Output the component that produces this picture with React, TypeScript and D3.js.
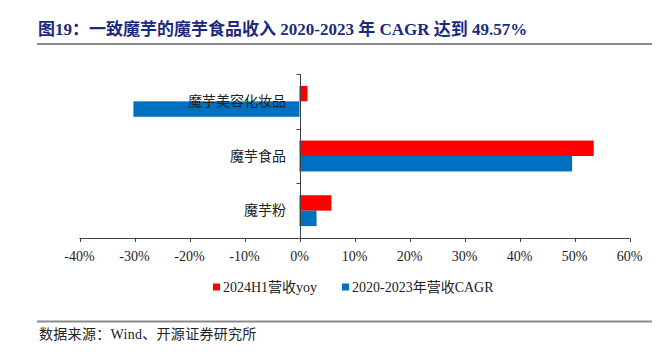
import * as d3 from "d3";

const RED = "#FF0000";
const BLUE = "#0070C0";
const NAVY = "#1C2A7E";
const AXIS = "#404040";
const FONT = "'Liberation Serif', 'Times New Roman', 'Noto Sans CJK SC', serif";

const categories = ["魔芋美容化妆品", "魔芋食品", "魔芋粉"];
const seriesNames = ["2024H1营收yoy", "2020-2023年营收CAGR"];
const yoy2024H1 = [1.45, 53.5, 5.8];
const cagr2020_2023 = [-30.2, 49.57, 3.1];
const xTicks = [-40, -30, -20, -10, 0, 10, 20, 30, 40, 50, 60];

const W = 672, H = 352;
const PLOT = { left: 79.5, right: 629.5, top: 74, bottom: 238 };

export default function App() {
  const x = d3.scaleLinear().domain([-40, 60]).range([PLOT.left, PLOT.right]);
  const y = d3.scaleBand<string>().domain(categories).range([PLOT.top, PLOT.bottom]).padding(0);
  const sub = d3.scaleBand<string>().domain(seriesNames).range([0, y.bandwidth()])
    .paddingInner(0).paddingOuter(0.77);
  const colors = [RED, BLUE];
  const series = [yoy2024H1, cagr2020_2023];
  const x0 = Math.round(x(0)) + 0.5;

  // category boundaries for the y-axis ticks
  const yTicks = [...categories.map(c => y(c)!), PLOT.bottom];

  const legendX = [213, 342];

  return (
    <div style={{ position: "absolute", left: 0, top: 0 }}>
      <svg width={W} height={H} style={{ display: "block", background: "#fff" }} fontFamily={FONT}>
        {/* title */}
        <text x={38} y={29} fill={NAVY} fontSize={17} fontWeight="bold" dominantBaseline="central">
          图19：一致魔芋的魔芋食品收入 2020-2023 年 CAGR 达到 49.57%
        </text>
        <line x1={37} x2={652} y1={44} y2={44} stroke="#8a8a8a" strokeWidth={2} />

        {/* bars */}
        {categories.map((c, i) => (
          <g key={c}>
            {series.map((s, j) => {
              const v = s[i];
              const xa = x(Math.min(0, v)), xb = x(Math.max(0, v));
              return (
                <rect key={j} x={xa} y={y(c)! + sub(seriesNames[j])!}
                  width={xb - xa} height={sub.bandwidth()} fill={colors[j]} />
              );
            })}
            <text x={286} y={y(c)! + y.bandwidth() / 2} textAnchor="end" dominantBaseline="central"
              fontSize={14} fill="#222">{c}</text>
          </g>
        ))}

        {/* y axis */}
        <line x1={x0} x2={x0} y1={PLOT.top} y2={PLOT.bottom} stroke={AXIS} strokeWidth={1} />
        {yTicks.map((t, i) => (
          <line key={i} x1={x0 - 4} x2={x0} y1={Math.round(t) + 0.5} y2={Math.round(t) + 0.5}
            stroke={AXIS} strokeWidth={1} />
        ))}

        {/* x axis */}
        <line x1={PLOT.left} x2={PLOT.right} y1={PLOT.bottom + 0.5} y2={PLOT.bottom + 0.5}
          stroke={AXIS} strokeWidth={1} />
        {xTicks.map(t => (
          <g key={t}>
            <line x1={Math.round(x(t)) + 0.5} x2={Math.round(x(t)) + 0.5} y1={PLOT.bottom} y2={PLOT.bottom + 4}
              stroke={AXIS} strokeWidth={1} />
            <text x={x(t)} y={256} textAnchor="middle" dominantBaseline="central" fontSize={14} fill="#222">
              {`${t}%`}
            </text>
          </g>
        ))}

        {/* legend */}
        {seriesNames.map((n, j) => (
          <g key={n}>
            <rect x={legendX[j]} y={283.5} width={7} height={7} fill={colors[j]} />
            <text x={legendX[j] + 10} y={287} dominantBaseline="central" fontSize={14} fill="#222">{n}</text>
          </g>
        ))}

        {/* footer */}
        <line x1={37} x2={652} y1={321.5} y2={321.5} stroke="#8a8a8a" strokeWidth={2} />
        <text x={39} y={334} dominantBaseline="central" fontSize={14} fill="#222" letterSpacing={0.3}>
          数据来源：Wind、开源证券研究所
        </text>
      </svg>
    </div>
  );
}
